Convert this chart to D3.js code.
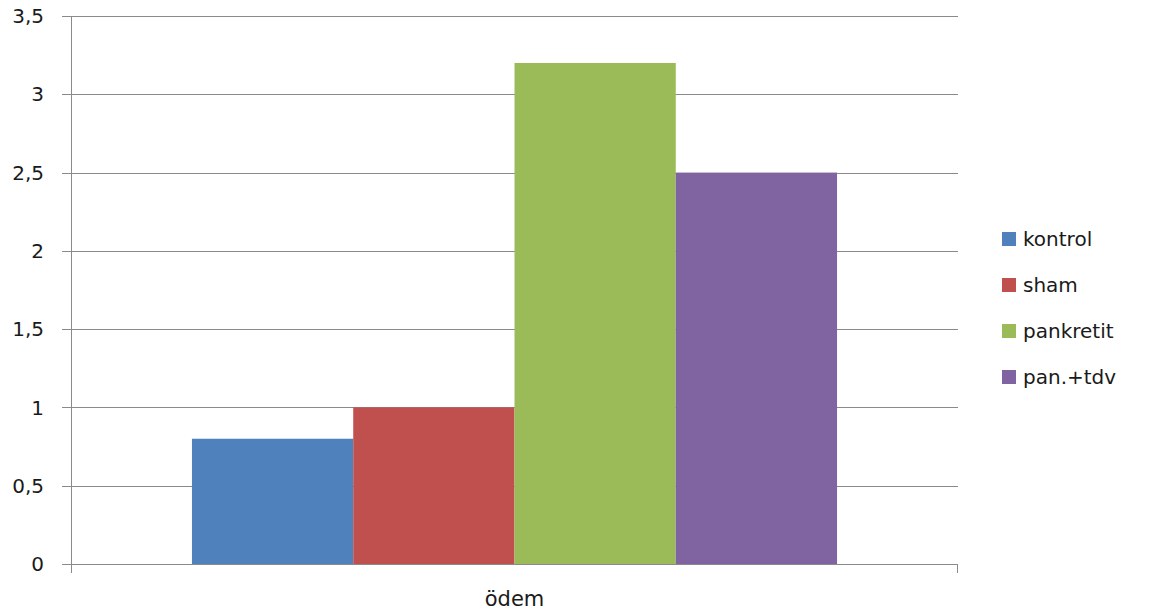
<!DOCTYPE html>
<html>
<head>
<meta charset="utf-8">
<script src="https://cdn.jsdelivr.net/npm/d3@7"></script>
<style>
  html, body { margin: 0; padding: 0; background: #fff; }
  text { font-family: "DejaVu Sans", Verdana, sans-serif; fill: #1a1a1a; }
</style>
</head>
<body>
<svg id="chart" width="1155" height="614"></svg>
<script>
// Data
const categories = ["ödem"];
const seriesNames = ["kontrol", "sham", "pankretit", "pan.+tdv"];
const seriesValues = [0.8, 1.0, 3.2, 2.5];
const seriesColors = ["#4F81BD", "#C0504D", "#9BBB59", "#8064A2"];
const yTicks = [0, 0.5, 1, 1.5, 2, 2.5, 3, 3.5];
const yTickLabels = ["0", "0,5", "1", "1,5", "2", "2,5", "3", "3,5"];

const svg = d3.select("#chart");
const plot = { left: 71, right: 958, top: 16, bottom: 564 };

const y = d3.scaleLinear().domain([0, 3.5]).range([plot.bottom, plot.top]);
const x0 = d3.scaleBand().domain(categories).range([plot.left, plot.right])
  .paddingInner(0).paddingOuter(0);
// group of four bars occupies the centre, with a 150% gap split either side
const groupWidth = x0.bandwidth() * 4 / 5.5;
const x1 = d3.scaleBand().domain(seriesNames)
  .range([(x0.bandwidth() - groupWidth) / 2, (x0.bandwidth() + groupWidth) / 2])
  .padding(0);

// Horizontal gridlines with short outward ticks
const grid = svg.append("g");
grid.selectAll("line").data(yTicks).join("line")
  .attr("x1", plot.left - 9).attr("x2", plot.right)
  .attr("y1", d => Math.round(y(d)) + 0.5).attr("y2", d => Math.round(y(d)) + 0.5)
  .attr("stroke", "#8a8a8a").attr("stroke-width", 1);

// Y tick labels
svg.append("g").selectAll("text").data(yTicks).join("text")
  .attr("x", 44).attr("y", d => y(d))
  .attr("dy", "0.36em")
  .attr("text-anchor", "end")
  .attr("font-size", 20)
  .text((d, i) => yTickLabels[i]);

// Bars
svg.append("g").selectAll("g").data(categories).join("g")
  .attr("transform", d => `translate(${x0(d)},0)`)
  .selectAll("rect").data(seriesValues.map((v, i) => ({ name: seriesNames[i], value: v, color: seriesColors[i] })))
  .join("rect")
  .attr("x", d => x1(d.name))
  .attr("width", x1.bandwidth())
  .attr("y", d => y(d.value))
  .attr("height", d => plot.bottom - y(d.value))
  .attr("fill", d => d.color);

// Axis lines
svg.append("line")
  .attr("x1", plot.left + 0.5).attr("x2", plot.left + 0.5)
  .attr("y1", plot.top).attr("y2", plot.bottom + 9)
  .attr("stroke", "#8a8a8a");
svg.append("line")
  .attr("x1", plot.left).attr("x2", plot.right)
  .attr("y1", plot.bottom + 0.5).attr("y2", plot.bottom + 0.5)
  .attr("stroke", "#8a8a8a");
svg.append("line")
  .attr("x1", plot.right - 0.5).attr("x2", plot.right - 0.5)
  .attr("y1", plot.bottom).attr("y2", plot.bottom + 9)
  .attr("stroke", "#8a8a8a");

// Category label
svg.append("g").selectAll("text").data(categories).join("text")
  .attr("x", d => x0(d) + x0.bandwidth() / 2)
  .attr("y", 606)
  .attr("text-anchor", "middle")
  .attr("font-size", 21)
  .text(d => d);

// Legend
const legend = svg.append("g").attr("transform", "translate(1002,239)");
const item = legend.selectAll("g").data(seriesNames).join("g")
  .attr("transform", (d, i) => `translate(0,${i * 46})`);
item.append("rect")
  .attr("x", 0).attr("y", -7).attr("width", 14).attr("height", 14)
  .attr("fill", (d, i) => seriesColors[i]);
item.append("text")
  .attr("x", 21).attr("y", 0).attr("dy", "0.36em")
  .attr("font-size", 20)
  .text(d => d);
</script>
</body>
</html>
